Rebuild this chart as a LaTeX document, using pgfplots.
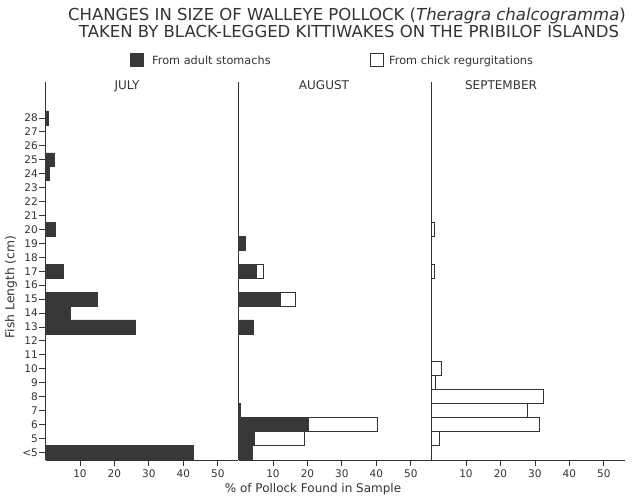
\documentclass[border=0pt]{standalone}
\usepackage{fontspec}
\setmainfont{DejaVu Sans}
\usepackage{pgfplots}
\pgfplotsset{compat=1.18}
\definecolor{ink}{HTML}{333333}
\definecolor{barfill}{HTML}{383838}

\pgfplotsset{
  panel/.style={
    scale only axis, width=193pt, height=378pt,
    anchor=south west,
    xmin=0, xmax=56, ymin=-0.55, ymax=26.58,
    axis x line=bottom, axis y line=left,
    axis line style={-, line width=1pt, draw=ink},
    xtick={10,20,30,40,50},
    tick align=outside, major tick length=6pt,
    tick style={line width=0.8pt, draw=ink},
    ticklabel style={font=\fontsize{10.5}{12}\selectfont, text=ink},
    yticklabel style={inner sep=1.5pt},
    /pgf/number format/assume math mode=true,
    xbar, bar width=1, bar shift=0pt,
    clip=false,
  },
  filled/.style={xbar, bar shift=0pt, bar width=1, fill=barfill, draw=barfill, line width=0.5pt},
  open/.style={xbar, bar shift=0pt, bar width=1, fill=white, draw=ink, line width=0.8pt},
}

% y index: 0 = <5, 1 = 5 cm, ..., 24 = 28 cm
% July: from adult stomachs (percent)
\pgfplotstableread{
x y
43.0 0
26.0 9
7.2 10
15.0 11
5.2 13
2.7 16
1.1 20
2.6 21
0.9 24
}\julyadult

% August: adult stomachs and total (adult + chick regurgitations)
\pgfplotstableread{
x y
4.0 0
4.7 1
20.2 2
0.5 3
4.4 9
12.0 11
5.1 13
2.0 15
}\augadult
\pgfplotstableread{
x y
19.0 1
40.2 2
16.6 11
7.2 13
}\augtotal

% September: chick regurgitations
\pgfplotstableread{
x y
2.3 1
31.3 2
27.8 3
32.4 4
1.0 5
2.8 6
0.7 13
0.7 16
}\septotal

\begin{document}
\begin{tikzpicture}[x=1pt,y=1pt]
\useasboundingbox (0,0) rectangle (636,495);

% Titles
\node[anchor=base, text=ink, font=\fontsize{16.5}{19}\selectfont] at (347,474)
  {CHANGES IN SIZE OF WALLEYE POLLOCK (\textit{Theragra chalcogramma})};
\node[anchor=base, text=ink, font=\fontsize{16.5}{19}\selectfont] at (349,457.7)
  {TAKEN BY BLACK-LEGGED KITTIWAKES ON THE PRIBILOF ISLANDS};

% Legend
\fill[barfill] (130,428) rectangle (144,442);
\node[anchor=base west, text=ink, inner sep=0pt, font=\fontsize{11.3}{13}\selectfont] at (152,430.5) {From adult stomachs};
\draw[ink, line width=0.8pt] (370,428.5) rectangle (383,441.5);
\node[anchor=base west, text=ink, inner sep=0pt, font=\fontsize{11.3}{13}\selectfont] at (389,430.5) {From chick regurgitations};

% Panel labels
\node[anchor=base, text=ink, font=\fontsize{12}{14}\selectfont] at (127,405) {JULY};
\node[anchor=base, text=ink, font=\fontsize{12}{14}\selectfont] at (324,405) {AUGUST};
\node[anchor=base, text=ink, font=\fontsize{12}{14}\selectfont] at (501,405) {SEPTEMBER};

% Axis labels
\node[anchor=base, text=ink, font=\fontsize{12}{14}\selectfont] at (313,2.8) {\% of Pollock Found in Sample};
\node[rotate=90, text=ink, font=\fontsize{12.3}{14}\selectfont] at (11,208) {Fish Length (cm)};

% JULY
\begin{axis}[panel, at={(45.5pt,35pt)},
  ytick={0,...,24},
  yticklabels={<5,5,6,7,8,9,10,11,12,13,14,15,16,17,18,19,20,21,22,23,24,25,26,27,28},
]
\addplot[filled] table[x=x,y=y] {\julyadult};
\end{axis}

% AUGUST
\begin{axis}[panel, at={(238.5pt,35pt)}, ytick=\empty]
\addplot[open] table[x=x,y=y] {\augtotal};
\addplot[filled] table[x=x,y=y] {\augadult};
\end{axis}

% SEPTEMBER
\begin{axis}[panel, at={(431.5pt,35pt)}, ytick=\empty]
\addplot[open] table[x=x,y=y] {\septotal};
\end{axis}
\end{tikzpicture}
\end{document}
